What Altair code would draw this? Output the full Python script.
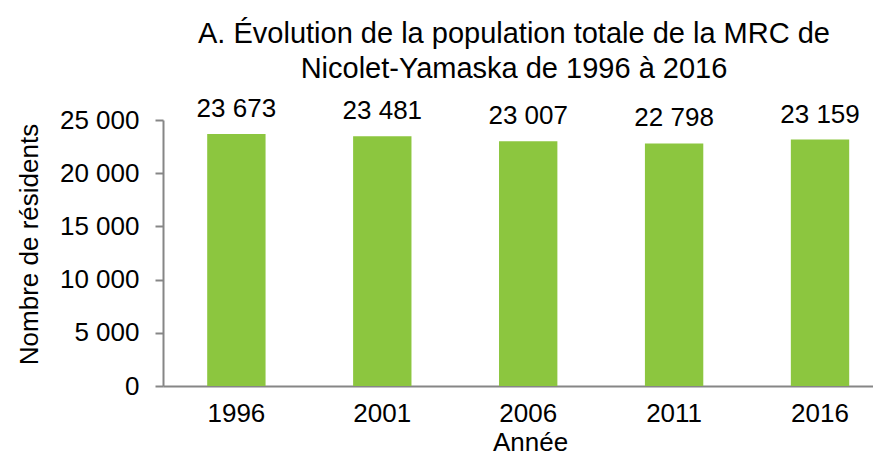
import altair as alt
import pandas as pd

years = ["1996", "2001", "2006", "2011", "2016"]
population = [23673, 23481, 23007, 22798, 23159]
y_ticks = [0, 5000, 10000, 15000, 20000, 25000]

title_lines = ["A. Évolution de la population totale de la MRC de",
               "Nicolet-Yamaska de 1996 à 2016"]

df = pd.DataFrame({"Année": years, "pop": population})

FONT = "Liberation Sans, Arial, sans-serif"
GRAY = "#868686"
GREEN = "#8CC63F"

base = alt.Chart(df).encode(
    x=alt.X(
        "Année:N",
        sort=years,
        scale=alt.Scale(paddingInner=0.6, paddingOuter=0.233, align=0.65),
        axis=alt.Axis(
            title="Année",
            labelAngle=0,
            ticks=False,
            domainColor=GRAY,
            domainWidth=2,
            labelFontSize=26,
            labelColor="black",
            labelPadding=14,
            titleFontSize=26,
            titleFontWeight="normal",
            titleColor="black",
            titleX=367,
            titleY=64,
            titleBaseline="alphabetic",
        ),
    ),
    y=alt.Y(
        "pop:Q",
        scale=alt.Scale(domain=[0, 25000], nice=False),
        axis=alt.Axis(
            title="Nombre de résidents",
            values=y_ticks,
            labelExpr="replace(format(datum.value, ','), ',', ' ')",
            grid=False,
            domainColor=GRAY,
            domainWidth=2,
            tickColor=GRAY,
            tickWidth=2,
            tickSize=8,
            labelFontSize=26,
            labelColor="black",
            labelPadding=16,
            titleFontSize=26,
            titleFontWeight="normal",
            titleColor="black",
            titleX=-126,
            titleY=124,
            titleBaseline="alphabetic",
        ),
    ),
)

bars = base.mark_bar(color=GREEN)

labels = base.transform_calculate(
    lab="replace(format(datum.pop, ','), ',', ' ')"
).mark_text(
    fontSize=26, baseline="alphabetic", dy=-17, color="black", font=FONT
).encode(text="lab:N")

chart = (
    alt.layer(bars, labels)
    .properties(
        width=710,
        height=266,
        autosize=alt.AutoSizeParams(type="none"),
        padding={"left": 155, "top": 112, "right": 0, "bottom": 70},
        title=alt.TitleParams(
            text=title_lines,
            fontSize=29,
            fontWeight="normal",
            color="black",
            anchor="middle",
            frame="group",
            lineHeight=35.5,
            offset=12,
            dx=-4,
        ),
    )
    .configure(font=FONT)
    .configure_view(stroke=None)
)

chart.save("out.html", embed_options={"renderer": "svg", "actions": False})
